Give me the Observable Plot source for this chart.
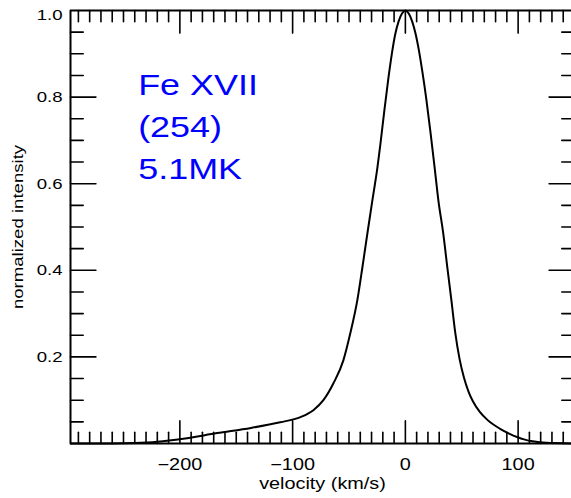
<!DOCTYPE html>
<html><head><meta charset="utf-8">
<script src="https://cdn.jsdelivr.net/npm/d3@7"></script>
<script src="https://cdn.jsdelivr.net/npm/@observablehq/plot@0.6"></script>
<style>html,body{margin:0;padding:0;background:#fff;overflow:hidden} svg{display:block}</style>
</head><body><div id="chart"></div>
<script>
// line profile data
const velocity  = [-297,-260,-240,-220,-197,-167,-137,-111,-93,-81.6,-72.7,-63.8,-55,-48.8,-42.6,-38.1,-33.7,-29.3,-24.8,-22.2,-18.6,-15,-12,-9,-6,-3,0,3,6,9,12,15,18.6,22.2,25.7,29.3,33.7,37.2,40.8,44.3,48,52,56,60,66,73,84,92,99,106,113,125,150];
const intensity = [0,0,0.001,0.004,0.011,0.024,0.036,0.049,0.061,0.077,0.100,0.139,0.192,0.255,0.331,0.407,0.485,0.561,0.637,0.69,0.77,0.845,0.9,0.945,0.975,0.993,1.0,0.993,0.975,0.947,0.908,0.86,0.795,0.72,0.643,0.561,0.483,0.407,0.331,0.255,0.196,0.152,0.12,0.097,0.073,0.054,0.034,0.023,0.015,0.009,0.005,0.0015,0];
const xTickValues = [-200,-100,0,100];
const yTickValues = [0.2,0.4,0.6,0.8];
const yTopTick = [1.0];
const xMinorTicks = d3.range(-290, 150, 10);
const yMinorTicks = d3.range(1, 20).map(i => i * 0.05);
const annotation = "Fe XVII\n(254)\n5.1MK";
const xLabel = "velocity (km/s)";
const yLabel = "normalized intensity";

const data = velocity.map((v, i) => ({v, I: intensity[i]}));
const isMajorX = d => Math.abs(d % 100) < 1e-6;
const isMajorY = d => { const r = Math.round(d * 100) % 20; return r === 0; };

const tickShape = {draw(context, l) { context.moveTo(0, 0); context.lineTo(0, -l); }};
const tk = {shape: tickShape, anchor: "start", stroke: "black", strokeWidth: 1.6};

const plot = Plot.plot({
  width: 571, height: 498,
  marginLeft: 70, marginRight: -3, marginTop: 10, marginBottom: 55,
  style: {fontFamily: "'Liberation Sans', Arial, sans-serif", color: "black", background: "white"},
  x: {domain: [-297, 150]},
  y: {domain: [0, 1]},
  marks: [
    // frame (left, bottom, top)
    Plot.ruleX([-297], {stroke: "black", strokeWidth: 2}),
    Plot.ruleY([0], {stroke: "black", strokeWidth: 2}),
    Plot.ruleY([1], {stroke: "black", strokeWidth: 2}),
    // inward ticks
    Plot.vector(xMinorTicks, {x: d => d, frameAnchor: "bottom", rotate: 0, length: d => isMajorX(d) ? 8 : 4, ...tk}),
    Plot.vector(xMinorTicks, {x: d => d, frameAnchor: "top", rotate: 180, length: d => isMajorX(d) ? 8 : 4, ...tk}),
    Plot.vector(yMinorTicks, {y: d => d, frameAnchor: "left", rotate: 90, length: d => isMajorY(d) ? 9 : 4.5, ...tk}),
    Plot.vector(yMinorTicks, {y: d => d, frameAnchor: "right", rotate: -90, length: d => isMajorY(d) ? 9 : 4.5, ...tk}),
    // tick labels
    Plot.axisX({ticks: xTickValues, tickSize: 0, tickPadding: 15, tickFormat: d3.format("d"), fontSize: 16, label: null}),
    Plot.axisY({ticks: yTickValues, tickSize: 0, tickPadding: 8, tickFormat: d3.format(".1f"), fontSize: 15, label: null}),
    Plot.axisY({ticks: yTopTick, tickSize: 0, tickPadding: 8, tickFormat: d3.format(".1f"), fontSize: 15, label: null, dy: 5}),
    // axis titles
    Plot.text([xLabel], {frameAnchor: "bottom", lineAnchor: "middle", textAnchor: "middle", dy: 40, fontSize: 16, text: d => d}),
    Plot.text([yLabel], {frameAnchor: "left", lineAnchor: "middle", textAnchor: "middle", dx: -52, rotate: -90, fontSize: 15, text: d => d}),
    // profile
    Plot.line(data, {x: "v", y: "I", stroke: "black", strokeWidth: 2, curve: "monotone-x"}),
    // annotation
    Plot.text([annotation], {x: -237, y: 0.873, text: d => d, textAnchor: "start", lineAnchor: "top", lineHeight: 1.45, fontSize: 29, fill: "#0000ff"})
  ]
});

// the reference font is wider than the available fonts: stretch text along its direction
d3.select(plot).selectAll("text").each(function() {
  const t = this.getAttribute("transform");
  if (t && t.includes("translate")) this.setAttribute("transform", t + " scale(1.24,1)");
});
document.getElementById("chart").appendChild(plot);
</script>
</body></html>
